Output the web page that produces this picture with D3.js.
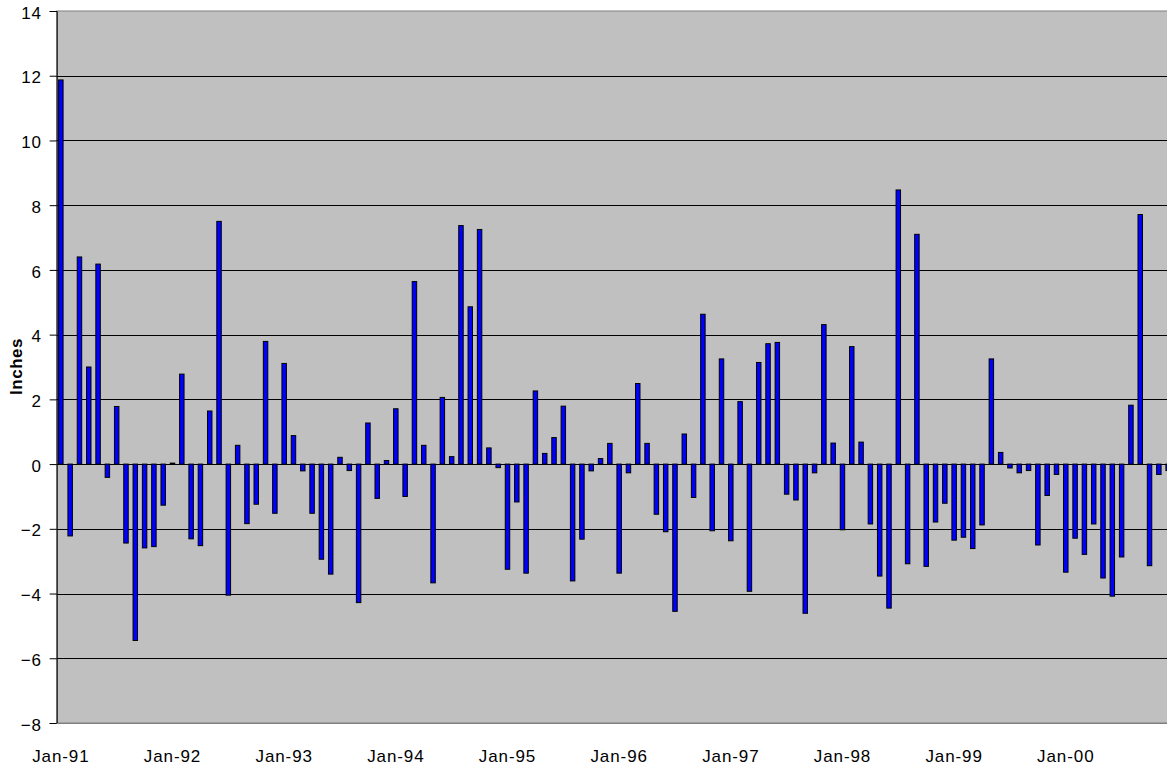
<!DOCTYPE html>
<html lang="en">
<head>
    <meta charset="UTF-8">
    <title>Monthly departure (inches)</title>
    <style>
        body {
            margin: 0;
            overflow: hidden;
            background: #fff;
        }
        svg text {
            font-family: Arial, "Liberation Sans", sans-serif;
        }
    </style>
</head>
<body>
    <div id="chart"></div>

    <script src="https://d3js.org/d3.v7.min.js"></script>
    <script>
        // Data, one line per year (Jan..Dec)
        const years = [1991, 1992, 1993, 1994, 1995, 1996, 1997, 1998, 1999, 2000];
        const monthNames = ["Jan", "Feb", "Mar", "Apr", "May", "Jun", "Jul", "Aug", "Sep", "Oct", "Nov", "Dec"];
        const inches = [
            11.87, -2.22, 6.40, 3.00, 6.18, -0.41, 1.78, -2.44, -5.45, -2.59, -2.55, -1.27,
            0.03, 2.78, -2.31, -2.52, 1.64, 7.50, -4.05, 0.58, -1.84, -1.24, 3.79, -1.52,
            3.11, 0.88, -0.21, -1.52, -2.94, -3.40, 0.21, -0.20, -4.28, 1.27, -1.06, 0.11,
            1.71, -1.00, 5.64, 0.58, -3.67, 2.06, 0.23, 7.37, 4.86, 7.25, 0.50, -0.11,
            -3.25, -1.17, -3.37, 2.26, 0.33, 0.82, 1.79, -3.61, -2.32, -0.21, 0.17, 0.64,
            -3.37, -0.27, 2.49, 0.64, -1.55, -2.09, -4.55, 0.93, -1.03, 4.63, -2.06, 3.25,
            -2.37, 1.93, -3.93, 3.14, 3.72, 3.76, -0.93, -1.11, -4.61, -0.27, 4.31, 0.65,
            -2.03, 3.63, 0.68, -1.85, -3.46, -4.45, 8.47, -3.08, 7.10, -3.16, -1.79, -1.21,
            -2.35, -2.26, -2.61, -1.88, 3.25, 0.36, -0.12, -0.27, -0.20, -2.50, -0.97, -0.32,
            -3.34, -2.29, -2.79, -1.85, -3.52, -4.08, -2.87, 1.82, 7.71, -3.14, -0.32, -0.20
        ];
        const yTicks = [-8, -6, -4, -2, 0, 2, 4, 6, 8, 10, 12, 14];
        const xTickLabels = ["Jan-91", "Jan-92", "Jan-93", "Jan-94", "Jan-95", "Jan-96", "Jan-97", "Jan-98", "Jan-99", "Jan-00"];

        // category keys like "Jan-91", "Feb-91", ...
        const categories = [];
        years.forEach(y => monthNames.forEach(m => categories.push(m + "-" + String(y).slice(2))));
        const data = categories.map((c, i) => ({ cat: c, value: inches[i] }));

        const width = 1167, height = 770;
        // plot area (right edge runs past the window, as in the original)
        const plot = { left: 56.7, top: 11, right: 1174, bottom: 723 };

        const svg = d3.select("#chart").append("svg")
            .attr("width", width)
            .attr("height", height)
            .style("display", "block");

        const x = d3.scaleBand()
            .domain(categories)
            .range([56.2, 56.2 + 120 * 9.305])
            .paddingInner(0.52)
            .paddingOuter(0.26);

        const y = d3.scaleLinear()
            .domain([-8, 14])
            .range([plot.bottom, plot.top]);

        // grey plot background
        svg.append("rect")
            .attr("x", plot.left)
            .attr("y", plot.top)
            .attr("width", plot.right - plot.left)
            .attr("height", plot.bottom - plot.top)
            .attr("fill", "#c0c0c0")
            .attr("stroke", "#808080")
            .attr("stroke-width", 1);

        // horizontal gridlines
        svg.append("g")
            .selectAll("line")
            .data(yTicks.filter(d => d > -8 && d < 14))
            .enter().append("line")
            .attr("x1", plot.left)
            .attr("x2", plot.right)
            .attr("y1", d => Math.round(y(d)) + 0.5)
            .attr("y2", d => Math.round(y(d)) + 0.5)
            .attr("stroke", "#000")
            .attr("stroke-width", 1);

        // bars
        svg.append("g")
            .selectAll("rect")
            .data(data)
            .enter().append("rect")
            .attr("x", d => x(d.cat))
            .attr("y", d => y(Math.max(0, d.value)))
            .attr("width", x.bandwidth())
            .attr("height", d => Math.max(1, Math.abs(y(d.value) - y(0))))
            .attr("fill", "#0000ff")
            .attr("stroke", "#000")
            .attr("stroke-width", 1);

        // y axis
        const yAxis = d3.axisLeft(y)
            .tickValues(yTicks)
            .tickSize(7)
            .tickPadding(8)
            .tickFormat(d3.format("d"));

        const gy = svg.append("g")
            .attr("transform", `translate(${plot.left},0)`)
            .call(yAxis);
        gy.select(".domain").attr("stroke", "#000");
        gy.selectAll(".tick line").attr("stroke", "#000");
        gy.selectAll(".tick text")
            .attr("font-size", 17)
            .attr("letter-spacing", 0.8)
            .attr("fill", "#000")
            .attr("dy", "0.42em");

        // x axis at the bottom, labels every January
        const xAxis = d3.axisBottom(x)
            .tickValues(xTickLabels)
            .tickSize(0)
            .tickPadding(27);

        const gx = svg.append("g")
            .attr("transform", `translate(0,${plot.bottom})`)
            .call(xAxis);
        gx.select(".domain").attr("stroke", "#808080");
        gx.selectAll(".tick text")
            .attr("font-size", 17)
            .attr("letter-spacing", 0.9)
            .attr("fill", "#000")
            .attr("dy", "0.71em");

        // y axis title
        svg.append("text")
            .attr("transform", `translate(21.7,366.5) rotate(-90)`)
            .attr("text-anchor", "middle")
            .attr("font-size", 17)
            .attr("letter-spacing", 0.5)
            .attr("font-weight", "bold")
            .text("Inches");
    </script>
</body>
</html>
